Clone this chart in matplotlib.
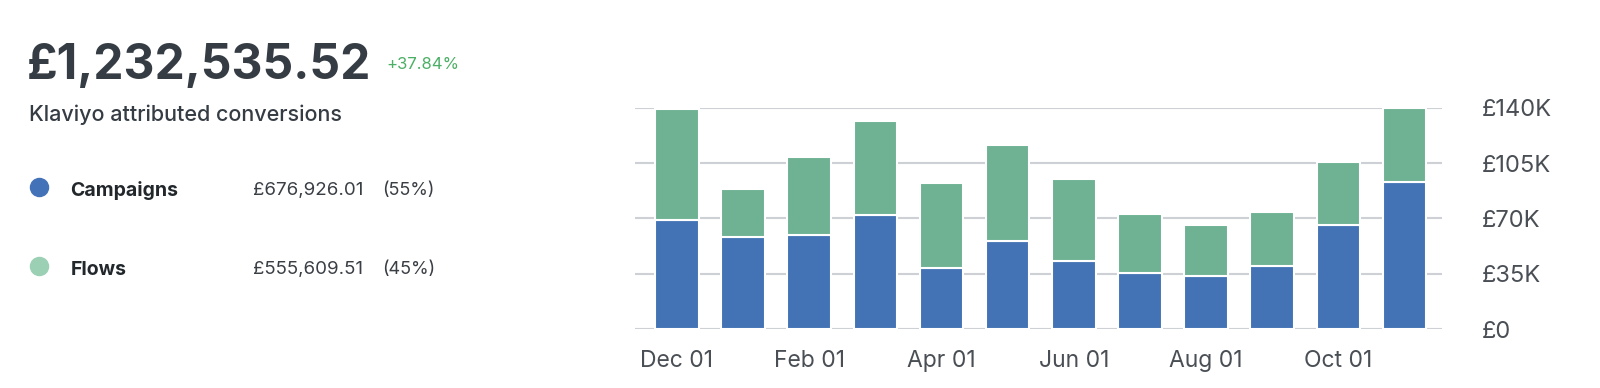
import numpy as np
import matplotlib.pyplot as plt

# -------------------- Data (GBP thousands) -------------------- #
months = ["Dec 01", "Jan 01", "Feb 01", "Mar 01", "Apr 01", "May 01",
          "Jun 01", "Jul 01", "Aug 01", "Sep 01", "Oct 01", "Nov 01"]
campaigns = [69.0, 58.5, 59.5, 72.0, 38.4, 55.7, 43.3, 35.7, 33.6, 39.9, 66.1, 93.1]
flows = [70.2, 30.0, 49.3, 59.6, 53.7, 60.4, 51.5, 37.0, 32.5, 34.0, 39.3, 46.9]
y_ticks = [0, 35, 70, 105, 140]
y_tick_labels = ["£0", "£35K", "£70K", "£105K", "£140K"]

total_label = "£1,232,535.52"
change_label = "+37.84%"
subtitle = "Klaviyo attributed conversions"
legend_rows = [("Campaigns", "£676,926.01", "(55%)"), ("Flows", "£555,609.51", "(45%)")]

BLUE = "#4373B4"
GREEN = "#6FB293"
DOT_COLORS = ["#4472B8", "#9BD0B5"]
DARK = "#353C44"

plt.rcParams["font.family"] = ["Inter", "DejaVu Sans"]

fig = plt.figure(figsize=(16, 3.88), dpi=100)

# -------------------- Bar chart -------------------- #
ax = fig.add_axes([0.397, 0.152, 0.504, 0.5705])
x = np.arange(len(months))
ax.bar(x, campaigns, width=0.66, color=BLUE, edgecolor="white", linewidth=1.5, zorder=3)
ax.bar(x, flows, width=0.66, bottom=campaigns, color=GREEN, edgecolor="white",
       linewidth=1.5, zorder=3, clip_on=False)

ax.set_xlim(-0.63, 11.56)
ax.set_ylim(0, 140)
ax.set_yticks(y_ticks)
ax.set_yticklabels(y_tick_labels)
ax.yaxis.tick_right()
ax.grid(axis="y", color="#CDD0D4", linewidth=1.5, zorder=0)
ax.set_xticks(x[::2])
ax.set_xticklabels(months[::2])
ax.tick_params(axis="y", length=0, pad=29, labelsize=17, labelcolor="#4A4F55")
ax.tick_params(axis="x", length=0, pad=15, labelsize=16.5, labelcolor="#4A4F55")
for lab in ax.get_yticklabels():
    lab.set_horizontalalignment("left")
for s in ax.spines.values():
    s.set_visible(False)

# -------------------- Header and legend -------------------- #
fig.text(0.017, 0.83, total_label, fontsize=34.5, fontweight="bold", color=DARK, va="center")
fig.text(0.2415, 0.835, change_label, fontsize=12, color="#4CAF66", va="center")
fig.text(0.018, 0.705, subtitle, fontsize=15.5, fontweight="medium", color=DARK, va="center")

row_y = [0.518, 0.315]
for (name, amount, pct), yy, c in zip(legend_rows, row_y, DOT_COLORS):
    fig.add_artist(plt.Line2D([0.0244], [yy], marker="o", markersize=13,
                              color=c, transform=fig.transFigure))
    fig.text(0.044, yy - 0.01, name, fontsize=14, fontweight="bold", color="#22272C", va="center")
    fig.text(0.158, yy - 0.01, amount, fontsize=13.5, color="#3A3F45", va="center")
    fig.text(0.239, yy - 0.01, pct, fontsize=13, color="#3A3F45", va="center")

fig.savefig("out.png", dpi=100)
